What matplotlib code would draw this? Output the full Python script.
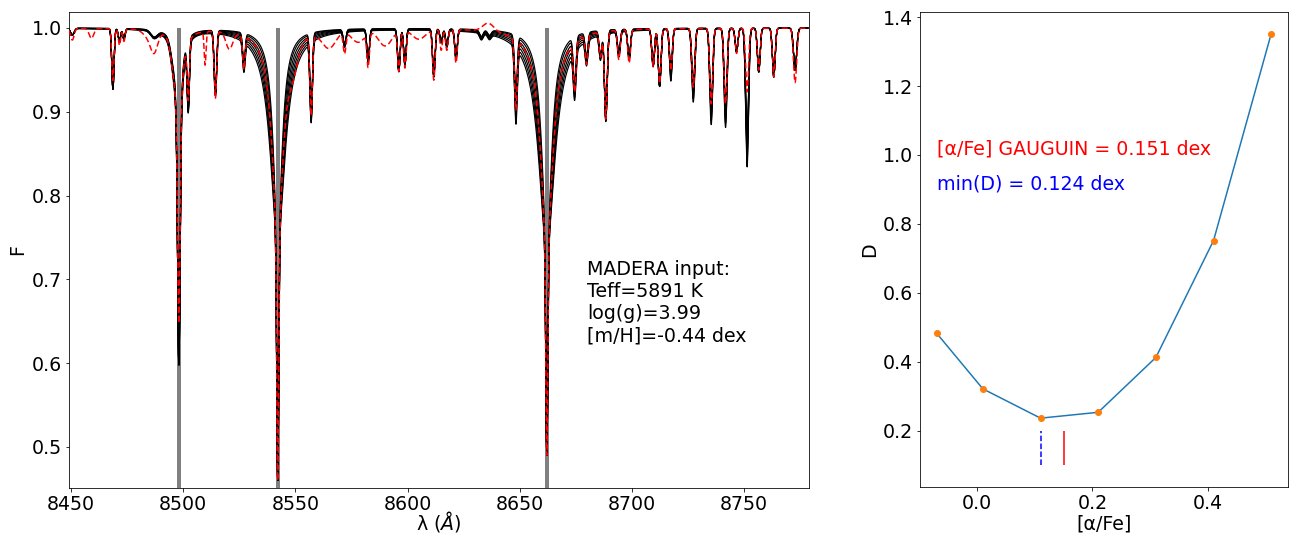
import numpy as np
import matplotlib
matplotlib.use("Agg")
import matplotlib.pyplot as plt

# --- right panel: distance D versus [alpha/Fe] of the model grid ---
ALPHA_GRID = [-0.07, 0.01, 0.11, 0.21, 0.31, 0.41, 0.51]
D_VALUES = [0.483, 0.322, 0.237, 0.254, 0.413, 0.752, 1.352]
ALPHA_GAUGUIN = 0.151
ALPHA_MIN_D = 0.11
GAUGUIN_LABEL = "[α/Fe] GAUGUIN = 0.151 dex"
MIN_D_LABEL = "min(D) = 0.124 dex"

# --- left panel: line list ---
# Ca II triplet (core depth, core sigma, wing depth, wing half width, alpha sensitivity)
CA_CENTERS = [8498.0, 8542.1, 8662.1]
CA_CORE_DEPTH = [0.27, 0.29, 0.25]
CA_CORE_DEPTH_OBS = [0.22, 0.29, 0.25]
CA_CORE_SIGMA = [0.55, 0.45, 0.45]
CA_WING_DEPTH = [0.13, 0.25, 0.26]
CA_WING_WIDTH = [1.6, 3.0, 3.3]
CA_ALPHA_K = [0.4, 1.0, 1.0]

# weaker metal lines: centre, depth in models, depth in observed, sigma, alpha sensitivity
LINE_CENTERS = [8450.5, 8468.6, 8471.5, 8473.5, 8487.0, 8495.5, 8502.2, 8514.3,
                8527.0, 8557.0, 8571.9, 8582.4, 8596.1, 8598.8, 8611.7, 8615.0,
                8617.5, 8621.6, 8632.9, 8636.5, 8648.3, 8674.5, 8679.8, 8686.0,
                8688.4, 8694.2, 8698.8, 8709.5, 8712.4, 8717.4, 8727.4, 8735.4,
                8741.8, 8746.7, 8751.4, 8756.6, 8763.3, 8772.8]
LINE_DEPTHS = [0.008, 0.072, 0.015, 0.012, 0.008, 0.015, 0.08, 0.075,
               0.036, 0.097, 0.018, 0.038, 0.05, 0.042, 0.056, 0.015,
               0.02, 0.034, 0.008, 0.006, 0.078, 0.058, 0.03, 0.03,
               0.105, 0.03, 0.034, 0.044, 0.068, 0.054, 0.074, 0.10,
               0.10, 0.028, 0.14, 0.052, 0.058, 0.05]
LINE_DEPTHS_OBS = [0.014, 0.062, 0.02, 0.015, 0.02, 0.02, 0.07, 0.08,
                   0.04, 0.095, 0.025, 0.04, 0.048, 0.045, 0.06, 0.025,
                   0.025, 0.04, 0.0, 0.0, 0.085, 0.06, 0.035, 0.03,
                   0.105, 0.035, 0.04, 0.045, 0.065, 0.05, 0.07, 0.09,
                   0.09, 0.03, 0.076, 0.05, 0.058, 0.065]
LINE_SIGMA = [0.8, 0.5, 0.5, 0.5, 1.5, 1.2, 0.5, 0.55,
              0.55, 0.55, 0.6, 0.55, 0.55, 0.55, 0.55, 0.55,
              0.55, 0.55, 0.8, 0.8, 0.6, 0.6, 0.6, 0.6,
              0.6, 0.6, 0.6, 0.6, 0.6, 0.6, 0.65, 0.65,
              0.65, 0.6, 0.65, 0.6, 0.6, 0.7]
LINE_ALPHA_K = [0, 0, 0, 0, 0, 0, 0, 0,
                0, 0, 0, 0, 0, 0, 0, 0,
                0, 0, 0, 0, 0.5, 0, 0, 0,
                0, 0, 0, 0, 0, 0.4, 0.5, 0.4,
                0.5, 0, 0.5, 0, 0, 0]

# features only seen in the observed (red) spectrum
OBS_CENTERS = [8459.0, 8485.0, 8509.7, 8520.5, 8549.0, 8565.0, 8578.0, 8590.0, 8605.0, 8636.0]
OBS_DEPTHS = [0.012, 0.01, 0.04, 0.02, 0.025, 0.02, 0.015, 0.02, 0.012, -0.01]
OBS_SIGMA = [1.0, 2.5, 0.4, 1.5, 2.0, 3.0, 3.0, 3.0, 3.0, 2.5]

MADERA_TEXT = "MADERA input:\nTeff=5891 K\nlog(g)=3.99\n[m/H]=-0.44 dex"
ALPHA_REF = 0.15


def spectrum(wave, alpha, observed=False):
    flux = np.ones_like(wave)
    core = CA_CORE_DEPTH_OBS if observed else CA_CORE_DEPTH
    for c, dc, sc, dw, gw, k in zip(CA_CENTERS, core, CA_CORE_SIGMA, CA_WING_DEPTH,
                                    CA_WING_WIDTH, CA_ALPHA_K):
        g = gw * (1 + k * (alpha - ALPHA_REF))
        x = wave - c
        p = dc * np.exp(-0.5 * (x / sc) ** 2) + dw / (1 + (x / g) ** 2)
        flux *= 1 - np.clip(p, 0, 0.99)
    depths = LINE_DEPTHS_OBS if observed else LINE_DEPTHS
    for c, d, s, k in zip(LINE_CENTERS, depths, LINE_SIGMA, LINE_ALPHA_K):
        d = d * (1 + k * (alpha - ALPHA_REF)) if not observed else d
        flux *= 1 - d * np.exp(-0.5 * ((wave - c) / s) ** 2)
    if observed:
        for c, d, s in zip(OBS_CENTERS, OBS_DEPTHS, OBS_SIGMA):
            flux *= 1 - d * np.exp(-0.5 * ((wave - c) / s) ** 2)
    return flux


def main():
    plt.rcParams['font.size'] = 19
    fig = plt.figure(figsize=(1289 / 72, 533 / 72), dpi=72)
    ax1 = fig.add_axes([0.0535, 0.0844, 0.5741, 0.8931])
    ax2 = fig.add_axes([0.7137, 0.0863, 0.2855, 0.8912])

    wave = np.arange(8449.0, 8779.0, 0.04)
    ax1.vlines(CA_CENTERS, 0, 1.0, color='grey', lw=4, zorder=1)
    for a in ALPHA_GRID:
        ax1.plot(wave, spectrum(wave, a), color='black', lw=1.2, zorder=2)
    ax1.plot(wave, spectrum(wave, ALPHA_REF, observed=True), color='red',
             ls='--', dashes=(4, 2), lw=1.5, zorder=3)
    ax1.set_xlim(8449, 8779)
    ax1.set_ylim(0.451, 1.019)
    ax1.set_xlabel(r'λ ($\AA$)', labelpad=-5)
    ax1.set_ylabel('F')
    ax1.text(8680, 0.723, MADERA_TEXT, va='top', ha='left', linespacing=1.2)

    ax2.plot(ALPHA_GRID, D_VALUES, color='C0', lw=1.5)
    ax2.plot(ALPHA_GRID, D_VALUES, 'o', color='C1', ms=6)
    ax2.vlines(ALPHA_GAUGUIN, 0.1, 0.2, color='red', lw=1.5)
    ax2.vlines(ALPHA_MIN_D, 0.1, 0.2, color='blue', linestyles='dashed', lw=1.5)
    ax2.text(-0.07, 1.0, GAUGUIN_LABEL, color='red')
    ax2.text(-0.07, 0.9, MIN_D_LABEL, color='blue')
    ax2.set_xlabel('[α/Fe]', labelpad=1)
    ax2.set_ylabel('D')

    fig.savefig('out.png', dpi=72)


if __name__ == '__main__':
    main()
